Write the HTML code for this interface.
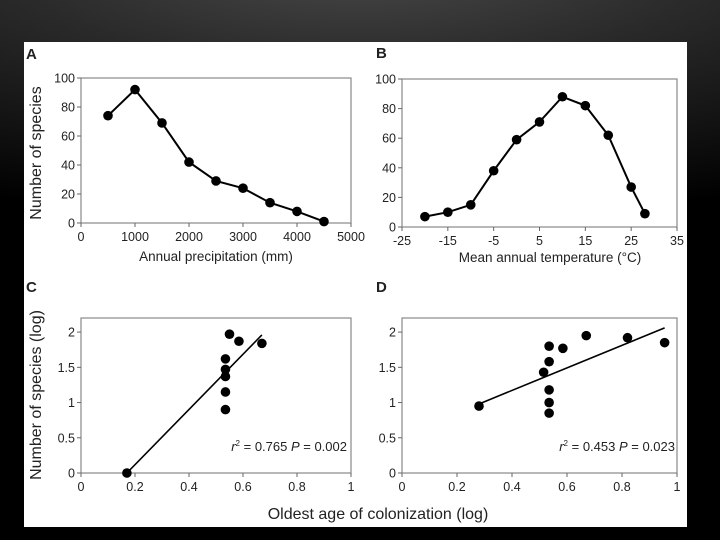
<!DOCTYPE html>
<html><head><meta charset="utf-8"><style>
html,body{margin:0;padding:0;width:720px;height:540px;overflow:hidden;background:#000}
#bg{position:absolute;left:0;top:0;width:720px;height:540px;background:radial-gradient(ellipse 900px 260px at 50% -40px,#4a4a4a 0%,#2a2a2a 40%,#000 100%)}
svg{position:absolute;left:0;top:0}
text{font-family:"Liberation Sans",sans-serif;fill:#222}
</style></head><body>
<div id="bg"></div>
<svg id="s" width="720" height="540">
<rect x="24" y="42" width="663" height="485" fill="#fff"/>
</svg>
<script>
const aX=[500,1000,1500,2000,2500,3000,3500,4000,4500];
const aY=[74,92,69,42,29,24,14,8,1];
const bX=[-20,-15,-10,-5,0,5,10,15,20,25,28];
const bY=[7,10,15,38,59,71,88,82,62,27,9];
const cX=[0.17,0.535,0.535,0.535,0.535,0.535,0.55,0.585,0.67];
const cY=[0,0.9,1.15,1.37,1.47,1.62,1.97,1.87,1.84];
const cFit=[[0.17,0],[0.67,1.96]];
const dX=[0.28,0.515,0.535,0.535,0.535,0.535,0.535,0.585,0.67,0.82,0.955];
const dY=[0.95,1.43,0.85,1.0,1.18,1.58,1.8,1.77,1.95,1.92,1.85];
const dFit=[[0.28,0.98],[0.955,2.06]];
const aXt=[0,1000,2000,3000,4000,5000],aYt=[0,20,40,60,80,100];
const bXt=[-25,-15,-5,5,15,25,35],bYt=[0,20,40,60,80,100];
const sXt=[0,0.2,0.4,0.6,0.8,1],sYt=[0,0.5,1,1.5,2];
const NS='http://www.w3.org/2000/svg',svg=document.getElementById('s');
function el(t,a,txt){const e=document.createElementNS(NS,t);for(const k in a)e.setAttribute(k,a[k]);if(txt!=null)e.textContent=txt;svg.appendChild(e);return e;}
function panel(id,L,R,T,B,x0,x1,y0,y1,xt,yt,xs,ys,line,fit){
  const sx=v=>L+(v-x0)/(x1-x0)*(R-L),sy=v=>B-(v-y0)/(y1-y0)*(B-T);
  let e=el('rect',{x:L,y:T,width:R-L,height:B-T,fill:'none',stroke:'#888','stroke-width':1.2});
  
  
  xt.forEach(v=>{el('line',{x1:sx(v),x2:sx(v),y1:B,y2:B+4,stroke:'#666'});
    e=el('text',{x:sx(v),y:B+18,'text-anchor':'middle','font-size':12.5},String(v));
    
    });
  yt.forEach(v=>{el('line',{x1:L-4,x2:L,y1:sy(v),y2:sy(v),stroke:'#666'});
    e=el('text',{x:L-6,y:sy(v)+4.5,'text-anchor':'end','font-size':12.5},String(v));
    
    });
  if(line){e=el('polyline',{points:xs.map((v,i)=>sx(v)+','+sy(ys[i])).join(' '),fill:'none',stroke:'#000','stroke-width':2});
    
    }
  if(fit){e=el('line',{x1:sx(fit[0][0]),y1:sy(fit[0][1]),x2:sx(fit[1][0]),y2:sy(fit[1][1]),stroke:'#000','stroke-width':1.6});
    
    }
  xs.forEach((v,i)=>{e=el('circle',{cx:sx(v),cy:sy(ys[i]),r:4.8,fill:'#000'});
    
    });
}
panel('panel-a',81,351,78,223,0,5000,0,100,aXt,aYt,aX,aY,true,null);
panel('panel-b',402,677,79,227,-25,35,0,100,bXt,bYt,bX,bY,true,null);
panel('panel-c',81,351,318,473,0,1,0,2.2,sXt,sYt,cX,cY,false,cFit);
panel('panel-d',402,677,318,473,0,1,0,2.2,sXt,sYt,dX,dY,false,dFit);
</script>
<svg width="720" height="540">
<text x="26" y="59" font-size="15" font-weight="bold">A</text>
<text x="376" y="58" font-size="15" font-weight="bold">B</text>
<text x="26" y="292" font-size="15" font-weight="bold">C</text>
<text x="376" y="292" font-size="15" font-weight="bold">D</text>
<text x="216" y="261" font-size="13.5" text-anchor="middle">Annual precipitation (mm)</text>
<text x="550" y="262" font-size="13.5" text-anchor="middle">Mean annual temperature (°C)</text>
<text transform="translate(41,153) rotate(-90)" font-size="16" text-anchor="middle">Number of species</text>
<text transform="translate(41,395) rotate(-90)" font-size="16" text-anchor="middle">Number of species (log)</text>
<text x="378" y="519" font-size="16" text-anchor="middle">Oldest age of colonization (log)</text>
<text x="347" y="451" font-size="13" text-anchor="end"><tspan font-style="italic">r</tspan><tspan font-size="8" dy="-5">2</tspan><tspan dy="5"> = 0.765 </tspan><tspan font-style="italic">P</tspan> = 0.002</text>
<text x="675" y="451" font-size="13" text-anchor="end"><tspan font-style="italic">r</tspan><tspan font-size="8" dy="-5">2</tspan><tspan dy="5"> = 0.453 </tspan><tspan font-style="italic">P</tspan> = 0.023</text>
</svg>
</body></html>
